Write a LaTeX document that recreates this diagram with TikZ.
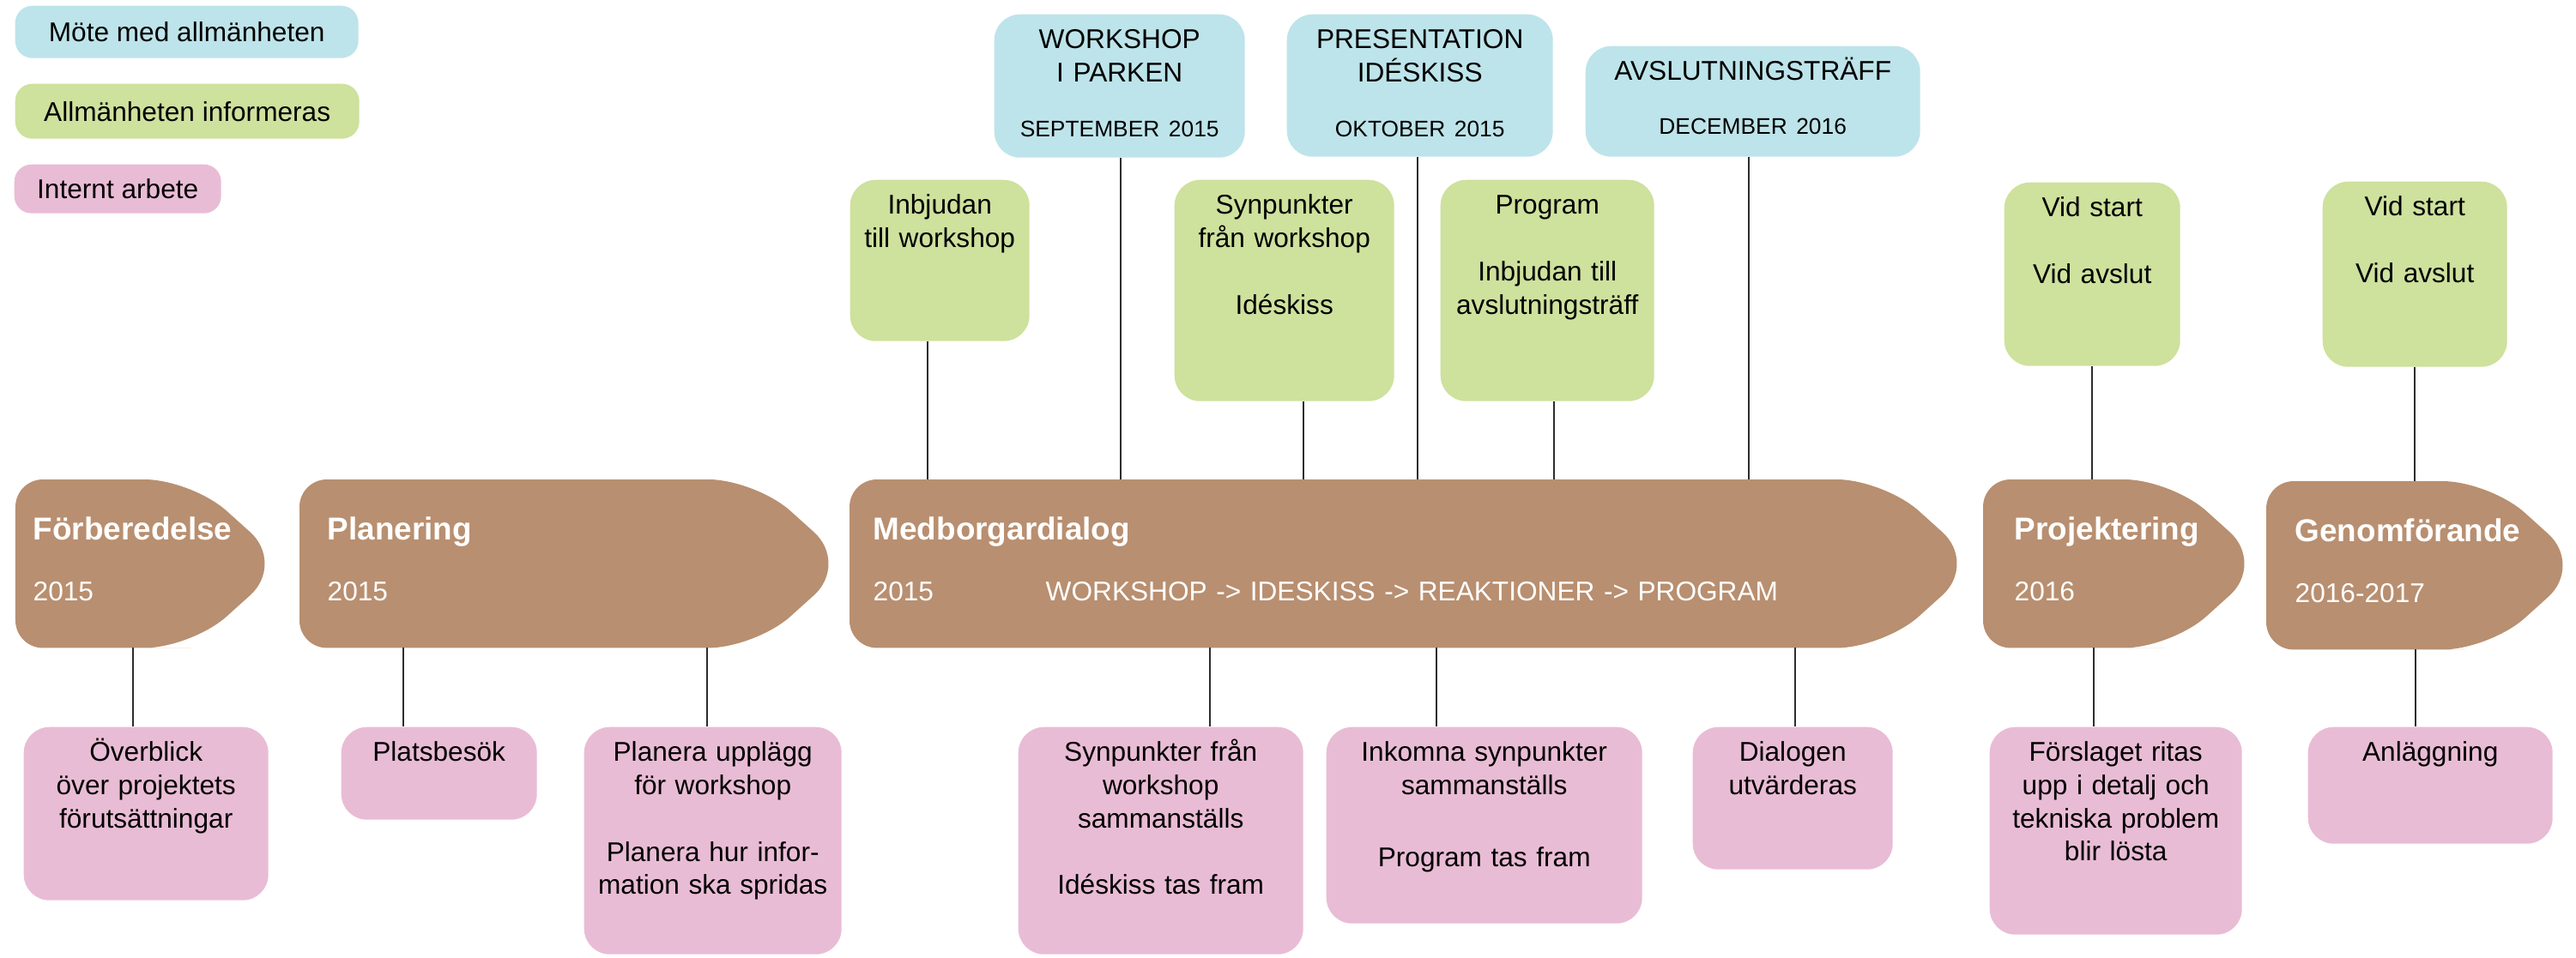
\documentclass[tikz,border=0pt]{standalone}
\usepackage{fontspec}
\setmainfont{Liberation Sans}
\usetikzlibrary{backgrounds}

\definecolor{meetblue}{RGB}{189,228,234}
\definecolor{infogreen}{RGB}{206,225,157}
\definecolor{workpink}{RGB}{233,188,213}
\definecolor{phasebrown}{RGB}{184,143,112}
\definecolor{stemgray}{RGB}{45,45,45}

\newcommand{\titlefont}{\bfseries\fontsize{10.5}{12}\selectfont}
\newcommand{\yearfont}{\mdseries\fontsize{9}{11}\selectfont}
\newcommand{\datefont}{\fontsize{7.5}{9}\selectfont}

\tikzset{
  every node/.style={font=\fontsize{9}{11}\selectfont},
  legendbox/.style={anchor=north west, rounded corners=0.2cm, inner sep=0pt},
  cardbox/.style={anchor=north west, rounded corners=0.3cm, align=center,
    inner xsep=0.1cm, inner ysep=0.1cm, text height=0.3cm},
  meetbox/.style={cardbox, fill=meetblue},
  infobox/.style={cardbox, fill=infogreen},
  workbox/.style={cardbox, fill=workpink},
  phasebox/.style={anchor=north west, align=left, text=white, inner ysep=0pt,
    text height=0.70cm, text depth=1.25cm},
  phasefill/.style={fill=phasebrown},
  stemline/.style={draw=stemgray, line width=0.5pt}
}

\begin{document}
\begin{tikzpicture}
    \useasboundingbox (0,0) rectangle (30.02,-11.16);

    % legend
    \node[legendbox, fill=meetblue, minimum width=4cm, minimum height=0.61cm]
      (lgmeet) at (0.17,-0.06) {Möte med allmänheten};
    \node[legendbox, fill=infogreen, minimum width=4.01cm, minimum height=0.64cm]
      (lginfo) at (0.17,-0.97) {Allmänheten informeras};
    \node[legendbox, fill=workpink, minimum width=2.41cm, minimum height=0.57cm]
      (lgwork) at (0.16,-1.91) {Internt arbete};

    % phases
    \node[phasebox, inner xsep=0.20cm, text width=2.59cm] (forb) at (0.18,-5.59)
      {\titlefont Förberedelse\\[0.32cm]\yearfont 2015};
    \node[phasebox, inner xsep=0.32cm, text width=5.61cm] (plan) at (3.49,-5.59)
      {\titlefont Planering\\[0.32cm]\yearfont 2015};
    \node[phasebox, inner xsep=0.27cm, text width=12.45cm] (medb) at (9.90,-5.59)
      {\titlefont Medborgardialog\\[0.32cm]\yearfont
       \makebox[2.01cm][l]{2015}WORKSHOP -> IDESKISS -> REAKTIONER -> PROGRAM};
    \node[phasebox, inner xsep=0.36cm, text width=2.41cm] (proj) at (23.11,-5.59)
      {\titlefont Projektering\\[0.32cm]\yearfont 2016};
    \node[phasebox, inner xsep=0.33cm, text width=2.88cm] (genom) at (26.41,-5.61)
      {\titlefont Genomförande\\[0.32cm]\yearfont 2016-2017};

    \begin{scope}[on background layer]
      \foreach \p in {forb,plan,medb,proj,genom}
        \fill[phasefill] (\p.south) [rounded corners=0.32cm] -- (\p.south west)
          -- (\p.north west) [rounded corners=0.55cm]
          -- ([xshift=-0.95cm]\p.north east) -- ([xshift=0.14cm]\p.east)
          -- ([xshift=-0.95cm]\p.south east) -- cycle;
    \end{scope}

    % meetings
    \node[meetbox, text width=2.72cm, text depth=1.17cm] (work) at (11.58,-0.16)
      {WORKSHOP\\I PARKEN\\[0.25cm]{\datefont SEPTEMBER 2015}};
    \node[meetbox, text width=2.90cm, text depth=1.16cm] (pres) at (14.99,-0.16)
      {PRESENTATION\\IDÉSKISS\\[0.25cm]{\datefont OKTOBER 2015}};
    \node[meetbox, text width=3.70cm, text depth=0.79cm] (avsl) at (18.47,-0.53)
      {AVSLUTNINGSTRÄFF\\[0.24cm]{\datefont DECEMBER 2016}};

    % information
    \node[infobox, text width=1.89cm, text depth=1.38cm] (inbj) at (9.90,-2.09)
      {Inbjudan\\till workshop};
    \node[infobox, text width=2.36cm, text depth=2.08cm] (synp) at (13.68,-2.09)
      {Synpunkter\\från workshop\\[0.39cm]Idéskiss};
    \node[infobox, text width=2.29cm, text depth=2.08cm] (prog) at (16.78,-2.09)
      {Program\\[0.39cm]Inbjudan till\\avslutningsträff};
    \node[infobox, text width=1.85cm, text depth=1.64cm] (vidproj) at (23.35,-2.12)
      {Vid start\\[0.39cm]Vid avslut};
    \node[infobox, text width=1.95cm, text depth=1.66cm] (vidgenom) at (27.06,-2.11)
      {Vid start\\[0.39cm]Vid avslut};

    % internal work
    \node[workbox, text width=2.65cm, text depth=1.52cm] (overb) at (0.27,-8.47)
      {Överblick\\över projektets\\förutsättningar};
    \node[workbox, text width=2.08cm, text depth=0.58cm] (plats) at (3.97,-8.47)
      {Platsbesök};
    \node[workbox, text width=2.80cm, text depth=2.15cm] (upplagg) at (6.80,-8.47)
      {Planera upplägg\\för workshop\\[0.39cm]Planera hur infor-\\mation ska spridas};
    \node[workbox, text width=3.12cm, text depth=2.15cm] (synsam) at (11.86,-8.47)
      {Synpunkter från\\workshop\\sammanställs\\[0.39cm]Idéskiss tas fram};
    \node[workbox, text width=3.48cm, text depth=1.79cm] (inko) at (15.45,-8.47)
      {Inkomna synpunkter\\sammanställs\\[0.45cm]Program tas fram};
    \node[workbox, text width=2.13cm, text depth=1.16cm] (dial) at (19.72,-8.47)
      {Dialogen\\utvärderas};
    \node[workbox, text width=2.74cm, text depth=1.92cm] (forsl) at (23.18,-8.47)
      {Förslaget ritas\\upp i detalj och\\tekniska problem\\blir lösta};
    \node[workbox, text width=2.65cm, text depth=0.86cm] (anl) at (26.89,-8.47)
      {Anläggning};

    % stems up
    \draw[stemline] ([xshift=-0.145cm]inbj.south) -- ([xshift=-0.145cm]inbj.south |- medb.north);
    \draw[stemline] ([xshift=0.01cm]work.south) -- ([xshift=0.01cm]work.south |- medb.north);
    \draw[stemline] ([xshift=-0.03cm]pres.south) -- ([xshift=-0.03cm]pres.south |- medb.north);
    \draw[stemline] ([xshift=-0.05cm]avsl.south) -- ([xshift=-0.05cm]avsl.south |- medb.north);
    \draw[stemline] ([xshift=0.22cm]synp.south) -- ([xshift=0.22cm]synp.south |- medb.north);
    \draw[stemline] ([xshift=0.075cm]prog.south) -- ([xshift=0.075cm]prog.south |- medb.north);
    \draw[stemline] (vidproj.south) -- (vidproj.south |- proj.north);
    \draw[stemline] (vidgenom.south) -- (vidgenom.south |- genom.north);

    % stems down
    \draw[stemline] ([xshift=-0.155cm]overb.north) -- ([xshift=-0.155cm]overb.north |- forb.south);
    \draw[stemline] ([xshift=-0.42cm]plats.north) -- ([xshift=-0.42cm]plats.north |- plan.south);
    \draw[stemline] ([xshift=-0.07cm]upplagg.north) -- ([xshift=-0.07cm]upplagg.north |- plan.south);
    \draw[stemline] ([xshift=0.57cm]synsam.north) -- ([xshift=0.57cm]synsam.north |- medb.south);
    \draw[stemline] ([xshift=-0.56cm]inko.north) -- ([xshift=-0.56cm]inko.north |- medb.south);
    \draw[stemline] ([xshift=0.025cm]dial.north) -- ([xshift=0.025cm]dial.north |- medb.south);
    \draw[stemline] ([xshift=-0.26cm]forsl.north) -- ([xshift=-0.26cm]forsl.north |- proj.south);
    \draw[stemline] ([xshift=-0.175cm]anl.north) -- ([xshift=-0.175cm]anl.north |- genom.south);
\end{tikzpicture}
\end{document}
